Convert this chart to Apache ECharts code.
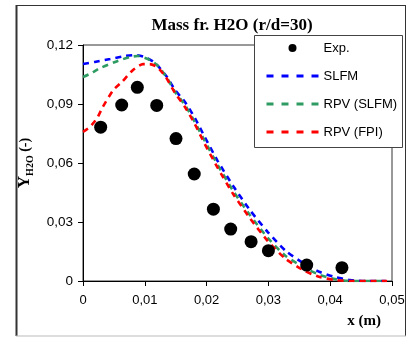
<!DOCTYPE html>
<html>
<head>
<meta charset="utf-8">
<script src="https://cdn.jsdelivr.net/npm/echarts@6/dist/echarts.min.js"></script>
<style>
html,body{margin:0;padding:0;background:#fff;}
#c{width:408px;height:337px;}
</style>
</head>
<body>
<div id="c"></div>
<script>
const titleText = 'Mass fr. H2O (r/d=30)';
const seriesNames = ['Exp.', 'SLFM', 'RPV (SLFM)', 'RPV (FPI)'];
const xTickLabels = ['0', '0,01', '0,02', '0,03', '0,04', '0,05'];
const yTickLabels = ['0', '0,03', '0,06', '0,09', '0,12'];

const expData = [
  [0.00286, 0.0782], [0.00626, 0.0895], [0.00879, 0.0985], [0.01193, 0.0893],
  [0.01505, 0.0724], [0.0180, 0.0544], [0.0211, 0.0365], [0.0239, 0.0264],
  [0.0272, 0.0200], [0.0300, 0.0154], [0.0362, 0.0081], [0.0419, 0.0068]
];
const slfmData = [
  [0, 0.1103], [0.0019, 0.1114], [0.0044, 0.1129], [0.0068, 0.1144], [0.0084, 0.1149],
  [0.0100, 0.1139], [0.0117, 0.1108], [0.0136, 0.1037], [0.0149, 0.0971], [0.0165, 0.0910],
  [0.0181, 0.0829], [0.0197, 0.0732], [0.0218, 0.0610], [0.0243, 0.0483], [0.0270, 0.0361],
  [0.0299, 0.0249], [0.0328, 0.0153], [0.0359, 0.0086], [0.0383, 0.0046], [0.0408, 0.0020],
  [0.0432, 0.0005], [0.0460, 0], [0.0490, 0]
];
const rpvSlfmData = [
  [0, 0.1037], [0.0011, 0.1053], [0.0028, 0.1083], [0.0052, 0.1114], [0.0076, 0.1139],
  [0.0089, 0.1144], [0.0105, 0.1129], [0.0120, 0.1098], [0.0136, 0.1032], [0.0149, 0.0961],
  [0.0165, 0.0895], [0.0181, 0.0808], [0.0197, 0.0712], [0.0218, 0.0590], [0.0243, 0.0458],
  [0.0270, 0.0336], [0.0299, 0.0219], [0.0328, 0.0127], [0.0359, 0.0066], [0.0383, 0.0031],
  [0.0408, 0.0010], [0.0432, 0], [0.0460, 0], [0.0490, 0]
];
const rpvFpiData = [
  [0, 0.0758], [0.0011, 0.0783], [0.0023, 0.0829], [0.0032, 0.0885], [0.0049, 0.0971],
  [0.0063, 0.1012], [0.0081, 0.1073], [0.0097, 0.1103], [0.0108, 0.1103], [0.0120, 0.1088],
  [0.0134, 0.1037], [0.0149, 0.0956], [0.0165, 0.0885], [0.0181, 0.0798], [0.0197, 0.0697],
  [0.0218, 0.0575], [0.0243, 0.0442], [0.0270, 0.0320], [0.0299, 0.0203], [0.0328, 0.0112],
  [0.0359, 0.0051], [0.0383, 0.0020], [0.0408, 0.0005], [0.0432, 0], [0.0460, 0], [0.0492, 0]
];

const chart = echarts.init(document.getElementById('c'), null, {renderer: 'canvas'});
const serif = '"Liberation Serif", "Times New Roman", serif';
const sans = '"Liberation Sans", Arial, sans-serif';

function lineSeries(name, data, color) {
  return {
    name: name, type: 'line', data: data, symbol: 'none', smooth: 0.2,
    lineStyle: {color: color, width: 2.6, type: [6, 5]},
    itemStyle: {color: color}, z: 2
  };
}
const hiddenSymbol = {color: 'rgba(0,0,0,0)', borderWidth: 0, borderColor: 'rgba(0,0,0,0)'};

chart.setOption({
  animation: false,
  backgroundColor: '#fff',
  title: {
    text: titleText, left: 227, top: 12, textAlign: 'center',
    textStyle: {fontFamily: serif, fontWeight: 'bold', fontSize: 17, color: '#000'}
  },
  grid: {left: 83, right: 16, top: 45, bottom: 56, show: true, borderColor: '#333', borderWidth: 1, containLabel: false},
  legend: {
    orient: 'vertical', left: 265, top: 41, padding: 0, itemGap: 14,
    itemWidth: 52, itemHeight: 8, z: 10,
    lineStyle: {width: 3, type: [7, 8]},
    textStyle: {fontFamily: sans, fontSize: 13, color: '#000', lineHeight: 14},
    data: [
      {name: seriesNames[0], icon: 'circle', itemStyle: {color: '#000', opacity: 1}},
      {name: seriesNames[1], itemStyle: hiddenSymbol},
      {name: seriesNames[2], itemStyle: hiddenSymbol},
      {name: seriesNames[3], itemStyle: hiddenSymbol}
    ]
  },
  xAxis: {
    type: 'value', min: 0, max: 0.05, interval: 0.01,
    name: 'x (m)', nameLocation: 'end', nameGap: -11,
    nameTextStyle: {fontFamily: serif, fontWeight: 'bold', fontSize: 15, color: '#000', align: 'right', verticalAlign: 'top', padding: [33, 0, 0, 0]},
    axisLine: {lineStyle: {color: '#000', width: 1}},
    axisTick: {show: true, length: 5, inside: false, lineStyle: {color: '#000'}},
    axisLabel: {fontFamily: sans, fontSize: 13, color: '#000', margin: 13,
      formatter: v => xTickLabels[Math.round(v / 0.01)]},
    splitLine: {show: false}
  },
  yAxis: {
    type: 'value', min: 0, max: 0.12, interval: 0.03,
    name: '{y|Y}{s|H2O}{n| (-)}', nameLocation: 'middle', nameGap: 50, nameRotate: 90,
    nameTextStyle: {
      rich: {
        y: {fontFamily: serif, fontWeight: 'bold', fontSize: 17, color: '#000', verticalAlign: 'bottom'},
        s: {fontFamily: serif, fontWeight: 'bold', fontSize: 10, color: '#000', verticalAlign: 'bottom', padding: [0, 0, -3, 0]},
        n: {fontFamily: serif, fontWeight: 'bold', fontSize: 14, color: '#000', verticalAlign: 'bottom'}
      }
    },
    axisLine: {show: true, lineStyle: {color: '#000', width: 1}},
    axisTick: {show: true, length: 5, inside: false, lineStyle: {color: '#000'}},
    axisLabel: {fontFamily: sans, fontSize: 13.5, color: '#000', margin: 10,
      formatter: v => yTickLabels[Math.round(v / 0.03)]},
    splitLine: {show: false}
  },
  graphic: [
    {type: 'rect', z: 5, shape: {x: 254.5, y: 35.5, width: 148, height: 112},
      style: {fill: '#fff', stroke: '#444', lineWidth: 1}},
    {type: 'line', z: 6, shape: {x1: 16.5, y1: 5, x2: 16.5, y2: 336}, style: {stroke: '#333', lineWidth: 2}},
    {type: 'line', z: 6, shape: {x1: 16, y1: 5.5, x2: 406, y2: 5.5}, style: {stroke: '#333', lineWidth: 1}},
    {type: 'line', z: 6, shape: {x1: 405.5, y1: 5, x2: 405.5, y2: 336}, style: {stroke: '#333', lineWidth: 1}},
    {type: 'line', z: 6, shape: {x1: 16, y1: 336, x2: 406, y2: 336}, style: {stroke: '#bbb', lineWidth: 1}}
  ],
  series: [
    {name: seriesNames[0], type: 'scatter', data: expData, symbol: 'circle', symbolSize: 13,
      itemStyle: {color: '#000', opacity: 1}, z: 3},
    lineSeries(seriesNames[1], slfmData, '#0000ff'),
    lineSeries(seriesNames[2], rpvSlfmData, '#2e9c62'),
    lineSeries(seriesNames[3], rpvFpiData, '#ff0000')
  ]
});
</script>
</body>
</html>
